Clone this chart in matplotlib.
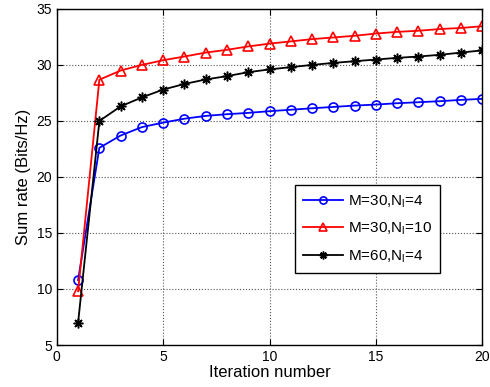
import matplotlib
matplotlib.use("Agg")
import matplotlib.pyplot as plt

plt.rcParams['font.family'] = ['Liberation Sans', 'DejaVu Sans']
plt.rcParams['mathtext.fontset'] = 'custom'
plt.rcParams['mathtext.rm'] = 'Liberation Sans'

iters = list(range(1, 21))
blue = [10.8, 22.6, 23.7, 24.45, 24.85, 25.2, 25.45, 25.6, 25.72, 25.87,
        26.0, 26.13, 26.25, 26.37, 26.46, 26.58, 26.67, 26.76, 26.88, 26.97]
red = [9.8, 28.68, 29.5, 30.0, 30.42, 30.75, 31.1, 31.35, 31.65, 31.9,
       32.1, 32.3, 32.45, 32.6, 32.8, 32.95, 33.05, 33.2, 33.3, 33.45]
black = [7.0, 25.0, 26.3, 27.1, 27.8, 28.3, 28.7, 29.0, 29.35, 29.6,
         29.8, 30.0, 30.18, 30.33, 30.48, 30.63, 30.75, 30.9, 31.1, 31.3]
labels = [r'M=30,N$_\mathregular{l}$=4', r'M=30,N$_\mathregular{l}$=10', r'M=60,N$_\mathregular{l}$=4']
xticks = [0, 5, 10, 15, 20]
yticks = [5, 10, 15, 20, 25, 30, 35]

fig = plt.figure(figsize=(4.9, 3.87), dpi=100)
ax = fig.add_axes([0.116, 0.1085, 0.868, 0.8685])

ax.plot(iters, blue, color='#0000ff', marker='o', mfc='none', mec='#0000ff', ms=6.5, lw=1.3, mew=1.2, label=labels[0])
ax.plot(iters, red, color='#ff0000', marker='^', mfc='none', mec='#ff0000', ms=7, lw=1.3, mew=1.2, label=labels[1])
ax.plot(iters, black, color='black', marker=(8, 2, 0), mfc='black', mec='black', ms=7, lw=1.3, mew=1.1, label=labels[2])

ax.set_xlim(0, 20)
ax.set_ylim(5, 35)
ax.set_xticks(xticks)
ax.set_yticks(yticks)
ax.grid(True, linestyle=':', color='#555555', linewidth=0.8)
ax.tick_params(direction='in', top=True, right=True, labelsize=10, length=4)
for s in ax.spines.values():
    s.set_linewidth(1.0)
ax.set_xlabel('Iteration number', fontsize=12, labelpad=1)
ax.set_ylabel('Sum rate (Bits/Hz)', fontsize=12, labelpad=4)

leg = ax.legend(loc='lower left', bbox_to_anchor=(0.56, 0.214), fontsize=11, fancybox=False,
                framealpha=1, edgecolor='black', borderaxespad=0, handlelength=2.6,
                labelspacing=0.7, borderpad=0.55, handletextpad=0.3, markerscale=0.8)
leg.get_frame().set_linewidth(1.0)

fig.savefig('out.png', dpi=100)
